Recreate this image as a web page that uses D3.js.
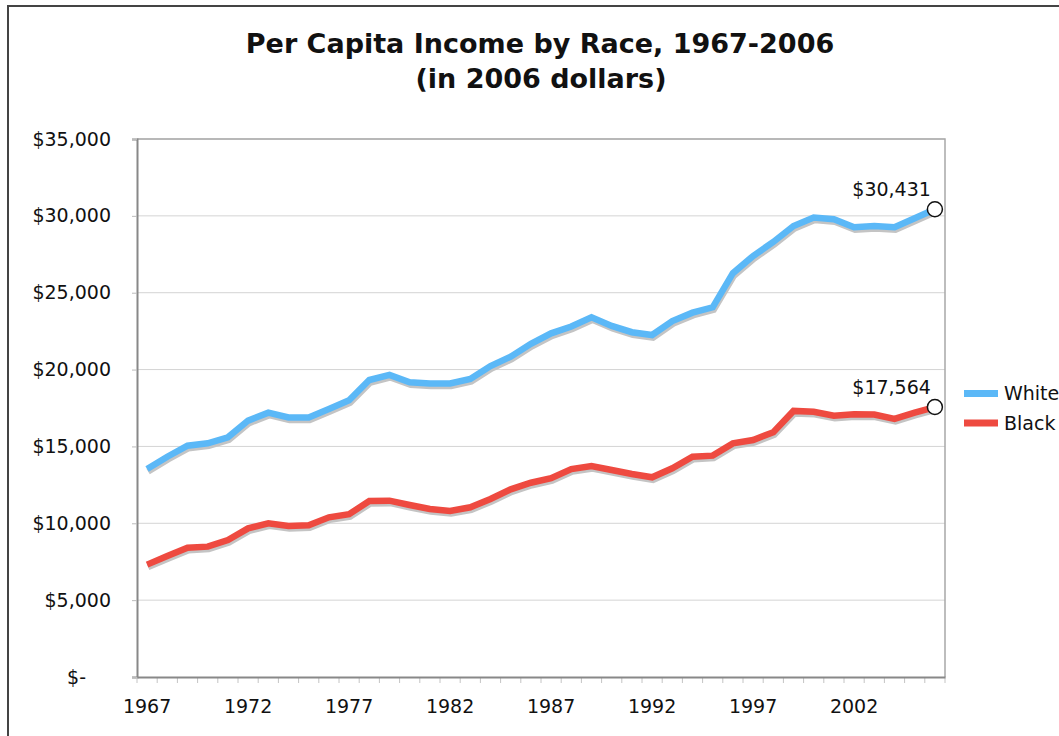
<!DOCTYPE html>
<html>
<head>
<meta charset="utf-8">
<script src="https://cdn.jsdelivr.net/npm/d3@7"></script>
<style>
  html, body { margin: 0; padding: 0; background: #fff; }
  svg text { font-family: "DejaVu Sans", Verdana, sans-serif; fill: #111; }
</style>
</head>
<body>
<div id="chart"></div>
<script>
// Per capita income by race, 2006 dollars
const years = d3.range(1967, 2007);
const white = [13530, 14330, 15050, 15200, 15590, 16680, 17200, 16890, 16890, 17440,
  18000, 19320, 19650, 19170, 19100, 19100, 19390, 20230, 20840, 21680,
  22360, 22800, 23400, 22840, 22430, 22250, 23160, 23700, 24050, 26270,
  27390, 28300, 29340, 29890, 29780, 29260, 29340, 29260, 29840, 30431];
const black = [7310, 7870, 8410, 8480, 8910, 9670, 10000, 9820, 9870, 10390,
  10590, 11450, 11470, 11190, 10930, 10800, 11040, 11580, 12210, 12640,
  12930, 13530, 13730, 13470, 13210, 12990, 13580, 14330, 14400, 15200,
  15420, 15920, 17310, 17260, 17000, 17090, 17070, 16790, 17200, 17564];
const seriesNames = ["White", "Black"];
const seriesColors = ["#5bb8f7", "#ee4a40"];
const yTicks = [0, 5000, 10000, 15000, 20000, 25000, 30000, 35000];
const xLabelYears = [1967, 1972, 1977, 1982, 1987, 1992, 1997, 2002];

const width = 1059, height = 736;
const plot = { left: 137, right: 945, top: 139, bottom: 677 };
const fontSize = "19px";

const svg = d3.select("#chart").append("svg")
  .attr("width", width)
  .attr("height", height);

// outer frame (extends past the window on the right and bottom)
svg.append("rect")
  .attr("x", 8).attr("y", 6)
  .attr("width", 1200).attr("height", 900)
  .attr("fill", "none")
  .attr("stroke", "#444")
  .attr("stroke-width", 2);

// title
const title = svg.append("text")
  .attr("text-anchor", "middle")
  .style("font-size", "27px")
  .style("font-weight", "bold");
title.append("tspan").attr("x", 540).attr("y", 53).text("Per Capita Income by Race, 1967-2006");
title.append("tspan").attr("x", 541).attr("y", 88).text("(in 2006 dollars)");

const x = d3.scaleBand()
  .domain(years)
  .range([plot.left, plot.right])
  .padding(0);

const y = d3.scaleLinear()
  .domain([0, 35000])
  .range([plot.bottom, plot.top]);

const cx = d => x(d) + x.bandwidth() / 2;

// gridlines
svg.append("g")
  .selectAll("line")
  .data(yTicks.filter(v => v > 0))
  .join("line")
  .attr("x1", plot.left).attr("x2", plot.right)
  .attr("y1", d => y(d)).attr("y2", d => y(d))
  .attr("stroke", "#d4d4d4")
  .attr("stroke-width", 1);

// plot border (top / right)
svg.append("path")
  .attr("d", `M${plot.left},${plot.top}H${plot.right}V${plot.bottom}`)
  .attr("fill", "none")
  .attr("stroke", "#a8a8a8")
  .attr("stroke-width", 1.5);

// y axis
const fmt = d3.format(",");
const yAxis = svg.append("g")
  .attr("transform", `translate(${plot.left},0)`)
  .call(d3.axisLeft(y)
    .tickValues(yTicks)
    .tickSize(5)
    .tickPadding(21)
    .tickFormat(d => d === 0 ? "$-" : "$" + fmt(d)));
yAxis.select(".domain").attr("stroke", "#888").attr("stroke-width", 2);
yAxis.selectAll(".tick line").attr("stroke", "#bbb");
yAxis.selectAll(".tick text")
  .style("font-size", fontSize)
  .attr("fill", "#111")
  .attr("dx", d => d === 0 ? -25 : 0);

// x axis: minor ticks on category boundaries
const edges = years.map(d => x(d)).concat([plot.right]);
svg.append("g")
  .selectAll("line")
  .data(edges)
  .join("line")
  .attr("x1", d => d).attr("x2", d => d)
  .attr("y1", plot.bottom).attr("y2", plot.bottom + 6)
  .attr("stroke", "#c4c4c4")
  .attr("stroke-width", 1);

const xAxis = svg.append("g")
  .attr("transform", `translate(0,${plot.bottom})`)
  .call(d3.axisBottom(x)
    .tickValues(xLabelYears)
    .tickSize(0)
    .tickPadding(23));
xAxis.select(".domain").attr("stroke", "#888").attr("stroke-width", 2);
xAxis.selectAll(".tick text").style("font-size", fontSize).attr("fill", "#111");

// lines
const data = [white, black];
const line = d3.line()
  .x((d, i) => cx(years[i]))
  .y(d => y(d));

data.forEach((vals, k) => {
  svg.append("path")
    .datum(vals)
    .attr("d", line)
    .attr("transform", "translate(1,2.5)")
    .attr("fill", "none")
    .attr("stroke", "#c4c4c4")
    .attr("stroke-width", 6.5)
    .attr("stroke-linejoin", "miter");
  svg.append("path")
    .datum(vals)
    .attr("d", line)
    .attr("fill", "none")
    .attr("stroke", seriesColors[k])
    .attr("stroke-width", 6.5)
    .attr("stroke-linejoin", "miter");
});

// end markers and labels
const last = years[years.length - 1];
data.forEach((vals, k) => {
  const v = vals[vals.length - 1];
  svg.append("circle")
    .attr("cx", cx(last))
    .attr("cy", y(v))
    .attr("r", 7.5)
    .attr("fill", "#fff")
    .attr("stroke", "#111")
    .attr("stroke-width", 1.5);
  svg.append("text")
    .attr("x", cx(last) - 4)
    .attr("y", y(v) - 13)
    .attr("text-anchor", "end")
    .style("font-size", fontSize)
    .text("$" + fmt(v));
});

// legend
const legend = svg.append("g");
seriesNames.forEach((name, k) => {
  const ly = 393.5 + k * 29.5;
  legend.append("rect")
    .attr("x", 964).attr("y", ly - 3.5)
    .attr("width", 34).attr("height", 7)
    .attr("fill", seriesColors[k]);
  legend.append("text")
    .attr("x", 1004).attr("y", ly + 6.5)
    .style("font-size", fontSize)
    .text(name);
});
</script>
</body>
</html>
